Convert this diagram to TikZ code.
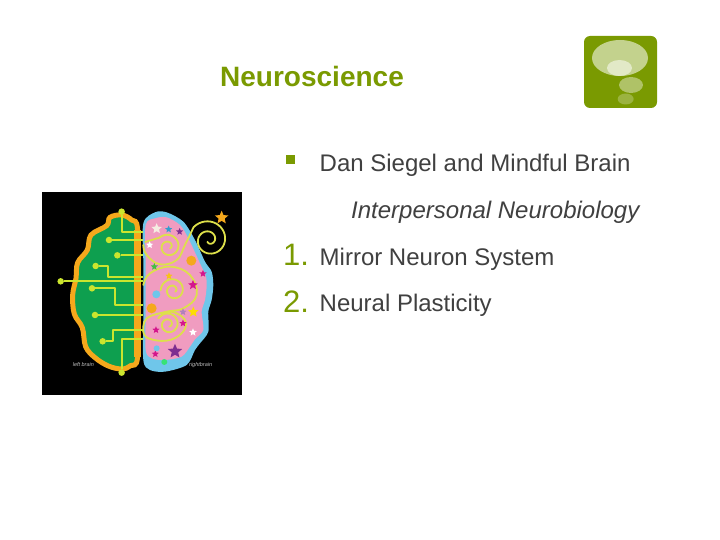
\documentclass[tikz,border=0pt]{standalone}
\usepackage{fontspec}
\setmainfont{Liberation Sans}
\usetikzlibrary{shapes.geometric}
\definecolor{slideolive}{HTML}{7A9A01}
\definecolor{slidetext}{HTML}{404040}
\definecolor{wirelime}{HTML}{CBE52E}
\definecolor{spiralyellow}{HTML}{DDE04A}
\definecolor{brainorange}{HTML}{F5A81C}
\definecolor{braingreen}{HTML}{0E9F4F}
\definecolor{brainblue}{HTML}{6FC6EA}
\definecolor{brainpink}{HTML}{F09CC0}
\definecolor{starmagenta}{HTML}{D4168C}
\definecolor{starpurple}{HTML}{7D2E90}
\tikzset{
  slidetitle/.style={anchor=base west,inner sep=0pt,font=\bfseries\fontsize{28}{28}\selectfont,text=slideolive},
  bodyline/.style={anchor=base west,inner sep=0pt,font=\fontsize{24}{24}\selectfont,text=slidetext},
  numberline/.style={anchor=base west,inner sep=0pt,font=\fontsize{31}{31}\selectfont,text=slideolive},
  wire/.style={draw=wirelime,line width=1.8pt,line join=round},
  spiralline/.style={draw=spiralyellow,line width=1.8pt,line cap=round},
  wireend/.style={circle,fill=wirelime,minimum size=6.5pt,inner sep=0pt},
  brainstar/.style={star,star points=5,star point ratio=2.2,inner sep=0pt,minimum size=#1},
  brainstar/.default=7.5pt,
  dotblob/.style={circle,inner sep=0pt,minimum size=#1},
  brainlabel/.style={inner sep=0pt,font=\itshape\fontsize{5.5}{6}\selectfont,text=white!75!black},
  bubble/.style={ellipse,inner sep=0pt},
}
\begin{document}
\begin{tikzpicture}[x=1pt,y=-1pt]
\useasboundingbox (0,0) rectangle (720,540);
\fill[white] (0,0) rectangle (720,540);
% Drawing slide text
\node[slidetitle] (title) at (220,86.5) {Neuroscience};
\node[rectangle,fill=slideolive,minimum size=9pt,inner sep=0pt] (bullet) at (290.5,159.5) {};
\node[bodyline] (dan) at (319.5,171.5) {Dan Siegel and Mindful Brain};
\node[bodyline,font=\itshape\fontsize{24}{24}\selectfont] (interpersonal) at (351,218.5) {Interpersonal Neurobiology};
\node[numberline] (one) at (283,265) {1.};
\node[bodyline] (mirror) at (319.5,265) {Mirror Neuron System};
\node[numberline] (two) at (283,312) {2.};
\node[bodyline] (neural) at (319.5,311) {Neural Plasticity};
% Drawing thought bubble logo
\fill[slideolive,rounded corners=6pt] (584,36) rectangle (657,108);
\node[bubble,fill=slideolive!45!white,minimum width=56pt,minimum height=36pt] (bubbletop) at (620,58) {};
\node[bubble,fill=slideolive!22!white,minimum width=25pt,minimum height=16pt] (bubblehigh) at (619.5,68) {};
\node[bubble,fill=slideolive!60!white,minimum width=24pt,minimum height=16pt] (bubblemid) at (631,85) {};
\node[bubble,fill=slideolive!75!white,minimum width=16pt,minimum height=11pt] (bubblelow) at (625.7,99) {};
% Drawing brain picture
\fill[black] (42,192) rectangle (242,395);
\begin{scope}[shift={(30,180)},x=0.3333pt,y=-0.3333pt]
% Left half
\draw[brainorange,line width=5pt,fill=braingreen] plot[smooth cycle,tension=0.6] coordinates {(275,105) (305,120) (323,150) (323,340) (323,530) (302,557) (275,567) (235,558) (195,533) (167,500) (157,443) (133,402) (128,345) (138,295) (143,248) (172,210) (183,165) (230,137) (240,112)};
\fill[brainorange] (311,150) rectangle (332,530);
% Right half
\fill[brainblue] plot[smooth cycle,tension=0.5] coordinates {(375,97) (410,97) (460,125) (495,180) (525,245) (545,275) (550,315) (545,360) (535,395) (535,455) (510,490) (495,510) (470,555) (405,575) (360,570) (340,540) (340,400) (340,250) (340,130)};
\fill[brainpink] plot[smooth cycle,tension=0.5] coordinates {(375,115) (410,112) (450,135) (475,175) (510,250) (528,290) (530,320) (525,360) (515,395) (520,450) (495,478) (480,500) (455,530) (405,540) (365,535) (347,510) (347,400) (347,250) (347,135)};
% Spirals
\foreach \cx/\cy/\rmax/\phase/\turns in {415/200/38/225/1.5, 430/331/38/180/1.6, 415/433/35/211/1.6, 537/180/60/220/1.75}
  \draw[spiralline] plot[smooth,domain=0:1,samples=70,variable=\t] ({\cx+(7+(\rmax-7)*\t)*cos(\phase+360*\turns*(1-\t))},{\cy+(7+(\rmax-7)*\t)*sin(\phase+360*\turns*(1-\t))});
\draw[spiralline] (388,173) -- (346,186);
\draw[spiralline] plot[smooth,tension=0.7] coordinates {(340,195) (350,225) (390,253) (440,240) (465,195) (491,141)};
\draw[spiralline] plot[smooth,tension=0.7] coordinates {(340,315) (360,280) (420,260) (480,285) (500,345) (460,385) (410,395) (350,415) (340,455)};
\draw[spiralline] plot[smooth,tension=0.7] coordinates {(340,455) (355,475) (410,482) (455,460) (467,425) (440,400) (410,397) (385,415)};
% Wires
\node[wireend] (topend) at (275,95) {};
\node[wireend] (bottomend) at (275,578) {};
\node[wireend] (leftend) at (92,304) {};
\node[wireend] (wirea) at (237,180) {};
\node[wireend] (wireb) at (262,226) {};
\node[wireend] (wirec) at (197,258) {};
\node[wireend] (wired) at (186,325) {};
\node[wireend] (wiree) at (195,405) {};
\node[wireend] (wiref) at (218,484) {};
\coordinate (edgea) at (338,155);
\coordinate (edgeb) at (338,180);
\coordinate (edgec) at (338,226);
\coordinate (edged) at (338,290);
\coordinate (edgee) at (338,304);
\coordinate (edgef) at (338,375);
\coordinate (edgeg) at (338,405);
\coordinate (edgeh) at (338,450);
\coordinate (edgei) at (338,478);
\draw[wire] (topend) |- (edgea);
\draw[wire] (wirea) -- (edgeb);
\draw[wire] (wireb) -- (edgec);
\draw[wire] (wirec) -- ++(38,0) |- (edged);
\draw[wire] (leftend) -- (edgee);
\draw[wire] (wired) -- ++(69,0) |- (edgef);
\draw[wire] (wiree) -- (edgeg);
\draw[wire] (wiref) -- ++(32,0) |- (edgeh);
\draw[wire] (bottomend) |- (edgei);
% Stars and dots
\node[brainstar=14pt,fill=brainorange] (stara) at (575,113) {};
\node[brainstar=11pt,fill=white!85!brown] (starb) at (380,146) {};
\node[brainstar,fill=blue!30!cyan!60!gray] (starc) at (416,148) {};
\node[brainstar,fill=starpurple] (stard) at (449,155) {};
\node[brainstar,fill=white] (stare) at (359,195) {};
\node[brainstar,fill=green!50!gray] (starf) at (373,260) {};
\node[brainstar,fill=starmagenta] (starg) at (519,281) {};
\node[brainstar,fill=brainorange!70!yellow] (starh) at (417,288) {};
\node[brainstar=10pt,fill=starmagenta] (stari) at (489,315) {};
\node[brainstar,fill=starpurple!60!white] (starj) at (459,396) {};
\node[brainstar=11pt,fill=yellow!80!orange] (stark) at (490,396) {};
\node[brainstar,fill=starmagenta] (starl) at (459,430) {};
\node[brainstar,fill=starmagenta] (starm) at (378,450) {};
\node[brainstar=8pt,fill=white] (starn) at (489,457) {};
\node[brainstar=15pt,fill=starpurple] (staro) at (435,514) {};
\node[brainstar,fill=starmagenta] (starp) at (376,522) {};
\node[dotblob=10pt,fill=brainorange] (dota) at (484,242) {};
\node[dotblob=8pt,fill=brainblue] (dotb) at (379,343) {};
\node[dotblob=10pt,fill=brainorange] (dotc) at (365,385) {};
\node[dotblob=6pt,fill=brainblue] (dotd) at (380,505) {};
\node[dotblob=6pt,fill=green!50!brainblue] (dote) at (403,546) {};
% Labels
\node[brainlabel] (leftlabel) at (160,555) {left brain};
\node[brainlabel] (rightlabel) at (512,555) {rightbrain};
\end{scope}
\end{tikzpicture}
\end{document}
